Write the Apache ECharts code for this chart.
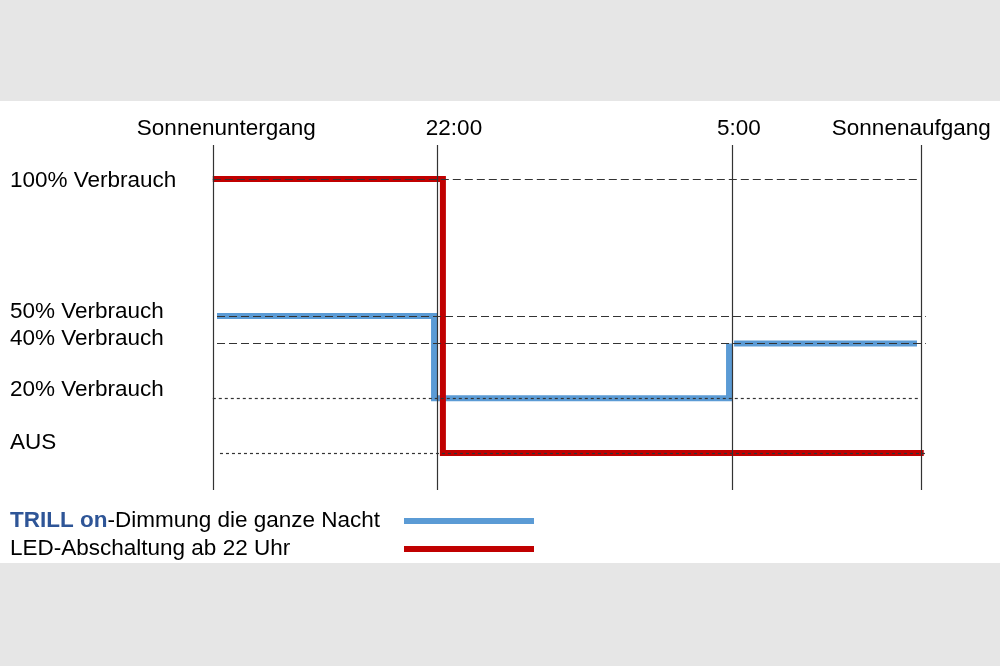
<!DOCTYPE html>
<html><head><meta charset="utf-8">
<script src="https://cdn.jsdelivr.net/npm/echarts@6/dist/echarts.min.js"></script>
<style>html,body{margin:0;padding:0;background:#e6e6e6}#c{width:1000px;height:666px}</style>
</head><body><div id="c"></div>
<script>
// Time axis (hours, 24+ = next morning)
const timeTicks = [16.68, 22, 29, 33.48];
const timeLabels = ['Sonnenuntergang', '22:00', '5:00', 'Sonnenaufgang'];
// Consumption levels (%)
const levelValues = [100, 50, 40, 20, 0];
const levelLabels = ['100% Verbrauch', '50% Verbrauch', '40% Verbrauch', '20% Verbrauch', 'AUS'];
// Guide lines per level: start / end hour
const guideStart = [16.68, 16.78, 16.78, 16.68, 16.85];
const guideEnd = [33.48, 33.6, 33.6, 33.48, 33.6];
// Series
const trillName = 'TRILL on-Dimmung die ganze Nacht';
const ledName = 'LED-Abschaltung ab 22 Uhr';
const trillEvening = [[16.78, 50], [21.93, 50], [21.93, 20], [28.93, 20], [28.93, 40]];
const trillMorning = [[29.05, 40], [33.39, 40]];
const ledData = [[16.68, 100], [22.14, 100], [22.14, 0], [33.55, 0]];

const FONT = 'Liberation Sans, Arial, sans-serif';
const FS = 22.5;
const BLUE = '#5B9BD5', RED = '#C00000';
const LEGEND_TEXT_W = 389;

// measure legend text widths so the legend lines line up
const mctx = document.createElement('canvas').getContext('2d');
function tw(txt, bold) { mctx.font = (bold ? 'bold ' : '') + FS + 'px ' + FONT; return mctx.measureText(txt).width; }
const w0 = tw('TRILL', true) + tw(' ', false) + tw('on', true) + tw('-Dimmung die ganze Nacht', false);
const w1 = tw(ledName, false);

const chart = echarts.init(document.getElementById('c'), null, {renderer: 'canvas'});

const xRich = {
  t0: {padding: [0, 0, 0, 27]},
  t1: {padding: [0, 0, 0, 34]},
  t2: {padding: [0, 0, 0, 14]},
  t3: {padding: [0, 19, 0, 0]}
};
Object.values(xRich).forEach(s => { s.fontSize = FS; s.fontFamily = FONT; s.color = '#000'; s.lineHeight = 24; });
const yRich = {
  l0: {padding: [4, 0, 0, 0]},
  l1: {padding: [0, 0, 8, 0]},
  l2: {padding: [0, 0, 10, 0]},
  l3: {padding: [0, 0, 16, 0]},
  l4: {padding: [0, 0, 20, 0]}
};
Object.values(yRich).forEach(s => { s.fontSize = FS; s.fontFamily = FONT; s.color = '#000'; s.lineHeight = 24; s.align = 'left'; });

const idx = (arr, v) => arr.findIndex(a => Math.abs(a - v) < 1e-6);

const hGuides = levelValues.map((lv, i) => [
  {coord: [guideStart[i], lv], lineStyle: {type: i < 3 ? [8, 4] : [3, 3], color: '#333', width: 1.2}},
  {coord: [guideEnd[i], lv]}
]);
const vGuides = timeTicks.map(t => ({xAxis: t, lineStyle: {type: 'solid', color: '#333', width: 1.2}}));

const option = {
  animation: false,
  backgroundColor: '#e6e6e6',
  graphic: [{
    type: 'rect', z: -10, silent: true,
    shape: {x: 0, y: 101, width: 1000, height: 462},
    style: {fill: '#ffffff'}
  }],
  grid: {left: 201, right: 57.3, top: 145, bottom: 176, containLabel: false, outerBoundsMode: 'none'},
  xAxis: {
    type: 'value', position: 'top', min: 16.4, max: 34,
    axisLine: {show: false}, axisTick: {show: false}, splitLine: {show: false},
    axisLabel: {
      customValues: timeTicks, margin: 4, fontSize: FS, fontFamily: FONT, color: '#000',
      formatter: v => { const i = idx(timeTicks, v); return i < 0 ? '' : '{t' + i + '|' + timeLabels[i] + '}'; },
      rich: xRich
    }
  },
  yAxis: {
    type: 'value', min: -13.5, max: 112.4,
    axisLine: {show: false}, axisTick: {show: false}, splitLine: {show: false},
    axisLabel: {
      customValues: levelValues, margin: 191, align: 'left', fontSize: FS, fontFamily: FONT, color: '#000',
      formatter: v => { const i = idx(levelValues, v); return i < 0 ? '' : '{l' + i + '|' + levelLabels[i] + '}'; },
      rich: yRich
    }
  },
  legend: {
    orient: 'vertical', left: 10, top: 509, padding: 0, align: 'right', icon: 'rect',
    itemWidth: 130, itemHeight: 6, itemGap: 4,
    data: [trillName, ledName],
    selectedMode: false,
    textStyle: {
      fontSize: FS, lineHeight: 24, fontFamily: FONT, color: '#000',
      rich: {
        b: {fontSize: FS, lineHeight: 24, fontFamily: FONT, color: '#2E5597', fontWeight: 'bold'},
        n: {fontSize: FS, lineHeight: 24, fontFamily: FONT, color: '#000'},
        s0: {fontSize: FS, lineHeight: 24, width: Math.max(1, LEGEND_TEXT_W - w0)},
        s1: {fontSize: FS, lineHeight: 24, width: Math.max(1, LEGEND_TEXT_W - w1)}
      }
    },
    formatter: name => name === trillName
      ? '{b|TRILL}{n| }{b|on}{n|-Dimmung die ganze Nacht}{s0| }'
      : '{n|' + name + '}{s1| }'
  },
  series: [
    {
      name: trillName, type: 'line', data: trillEvening, showSymbol: false, color: BLUE,
      itemStyle: {color: BLUE}, lineStyle: {color: BLUE, width: 6, join: 'miter', cap: 'butt'}, z: 2
    },
    {
      name: trillName, type: 'line', data: trillMorning, showSymbol: false, color: BLUE,
      itemStyle: {color: BLUE}, lineStyle: {color: BLUE, width: 6, join: 'miter', cap: 'butt'}, z: 2
    },
    {
      name: ledName, type: 'line', data: ledData, showSymbol: false, color: RED,
      itemStyle: {color: RED}, lineStyle: {color: RED, width: 6, join: 'miter', cap: 'butt'}, z: 3
    },
    {
      name: 'guides', type: 'line', data: [], z: 5,
      markLine: {
        silent: true, symbol: ['none', 'none'], label: {show: false}, animation: false,
        data: vGuides.concat(hGuides)
      }
    }
  ]
};
chart.setOption(option);
</script>
</body></html>
